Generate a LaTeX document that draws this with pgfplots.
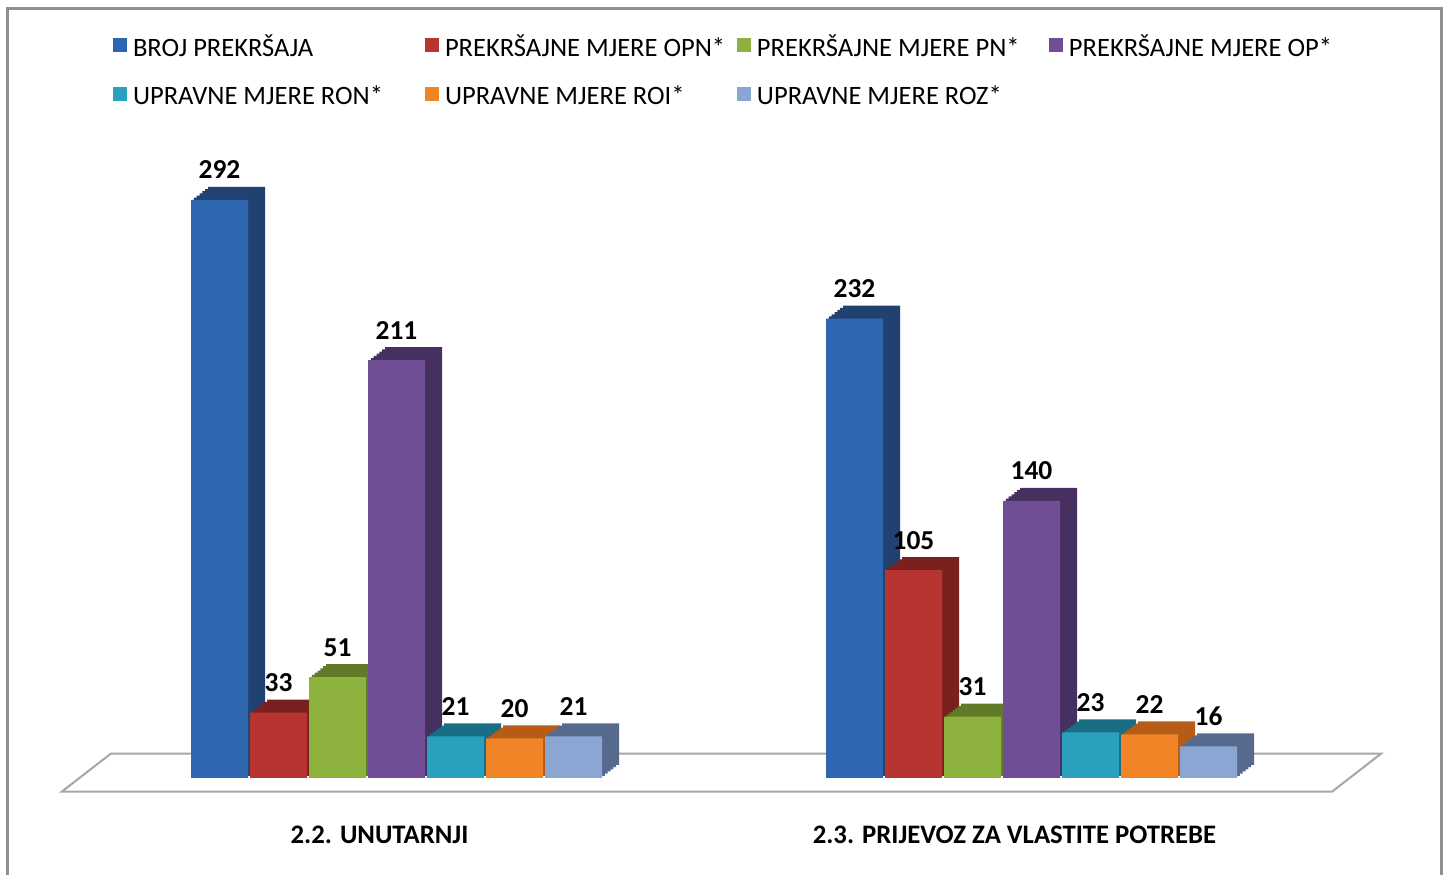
\documentclass[border=0pt]{standalone}
\usepackage{fontspec}
\setmainfont{Carlito}
\usepackage{pgfplots}
\pgfplotsset{compat=1.18}
\definecolor{bluef}{RGB}{47,102,176}
\definecolor{blued}{RGB}{33,66,112}
\definecolor{redf}{RGB}{184,52,48}
\definecolor{redd}{RGB}{122,32,30}
\definecolor{greenf}{RGB}{142,178,62}
\definecolor{greend}{RGB}{96,122,40}
\definecolor{purpf}{RGB}{112,78,150}
\definecolor{purpd}{RGB}{70,48,96}
\definecolor{cyanf}{RGB}{40,160,190}
\definecolor{cyand}{RGB}{26,110,132}
\definecolor{orgf}{RGB}{242,132,40}
\definecolor{orgd}{RGB}{182,92,22}
\definecolor{lbf}{RGB}{140,166,212}
\definecolor{lbd}{RGB}{86,106,142}
\definecolor{frame}{RGB}{143,143,143}
\definecolor{floor}{RGB}{166,166,166}
\newcommand\depthbars[3]{%
  \pgfplotsinvokeforeach{0.1667,0.3333,0.5,0.6667,0.8333,1}{%
    \addplot[forget plot, draw=none, fill=#1, bar shift=#2,
      xshift=##1*0.17cm, yshift=##1*0.13cm] coordinates {#3};
  }%
}
\begin{document}
\begin{tikzpicture}
\useasboundingbox (0,0) rectangle (14.51cm,-8.76cm);
\begin{scope}[x=0.01cm,y=-0.01cm]
\draw[frame, line width=0.03cm] (7.5,876) -- (7.5,8.5) -- (1442,8.5) -- (1442,876);
\draw[floor, line width=0.02cm, fill=white] (62,792) -- (1333,792) -- (1382,754) -- (111,754) -- cycle;
\end{scope}
\begin{axis}[
  at={(0.155cm,-7.78cm)}, anchor=south west,
  scale only axis, width=13.97cm, height=5.94cm,
  xmin=-0.6, xmax=1.6, ymin=0, ymax=300,
  clip=false,
  ybar, bar width=0.57cm,
  axis line style={draw=none}, tick style={draw=none},
  ytick=\empty, xtick={0,1},
  xticklabels={2.2. UNUTARNJI, 2.3. PRIJEVOZ ZA VLASTITE POTREBE},
  xticklabel style={anchor=base, yshift=-0.51cm, xshift=-0.17cm,
    font=\fontsize{7.6pt}{9pt}\selectfont\bfseries},
  /pgf/number format/assume math mode=true,
  every node near coord/.append style={anchor=base, yshift=0.21cm,
    font=\fontsize{7.8pt}{9pt}\selectfont\bfseries, text=black},
  legend columns=4,
  legend cell align=left,
  legend image code/.code={\fill[#1] (0cm,-0.035cm) rectangle (0.14cm,0.105cm);},
  legend style={at={(0.0698,1.249)}, anchor=north west, draw=none, fill=none,
    inner sep=0pt, outer sep=0pt, row sep=0.235cm,
    nodes={inner sep=0pt, text height=0.2cm, text depth=0.05cm,
      font=\fontsize{7.55pt}{9pt}\selectfont},
    /tikz/every odd column/.append style={column sep=0.06cm}},
]
% 3D depth (side/top faces)
\depthbars{blued}{-1.77cm}{(0,292) (1,232)}
\depthbars{redd}{-1.18cm}{(0,33) (1,105)}
\depthbars{greend}{-0.59cm}{(0,51) (1,31)}
\depthbars{purpd}{0cm}{(0,211) (1,140)}
\depthbars{cyand}{0.59cm}{(0,21) (1,23)}
\depthbars{orgd}{1.18cm}{(0,20) (1,22)}
\depthbars{lbd}{1.77cm}{(0,21) (1,16)}
% front faces
\addplot[draw=none, fill=bluef, bar shift=-1.77cm, nodes near coords] coordinates {(0,292) (1,232)};
\addplot[draw=none, fill=redf, bar shift=-1.18cm, nodes near coords] coordinates {(0,33) (1,105)};
\addplot[draw=none, fill=greenf, bar shift=-0.59cm, nodes near coords] coordinates {(0,51) (1,31)};
\addplot[draw=none, fill=purpf, bar shift=0cm, nodes near coords] coordinates {(0,211) (1,140)};
\addplot[draw=none, fill=cyanf, bar shift=0.59cm, nodes near coords] coordinates {(0,21) (1,23)};
\addplot[draw=none, fill=orgf, bar shift=1.18cm, nodes near coords] coordinates {(0,20) (1,22)};
\addplot[draw=none, fill=lbf, bar shift=1.77cm, nodes near coords] coordinates {(0,21) (1,16)};
\legend{\makebox[2.92cm][l]{BROJ PREKRŠAJA},
        \makebox[2.92cm][l]{PREKRŠAJNE MJERE OPN*},
        \makebox[2.92cm][l]{PREKRŠAJNE MJERE PN*},
        \makebox[2.92cm][l]{PREKRŠAJNE MJERE OP*},
        \makebox[2.92cm][l]{UPRAVNE MJERE RON*},
        \makebox[2.92cm][l]{UPRAVNE MJERE ROI*},
        \makebox[2.92cm][l]{UPRAVNE MJERE ROZ*}}
\end{axis}
\end{tikzpicture}
\end{document}
